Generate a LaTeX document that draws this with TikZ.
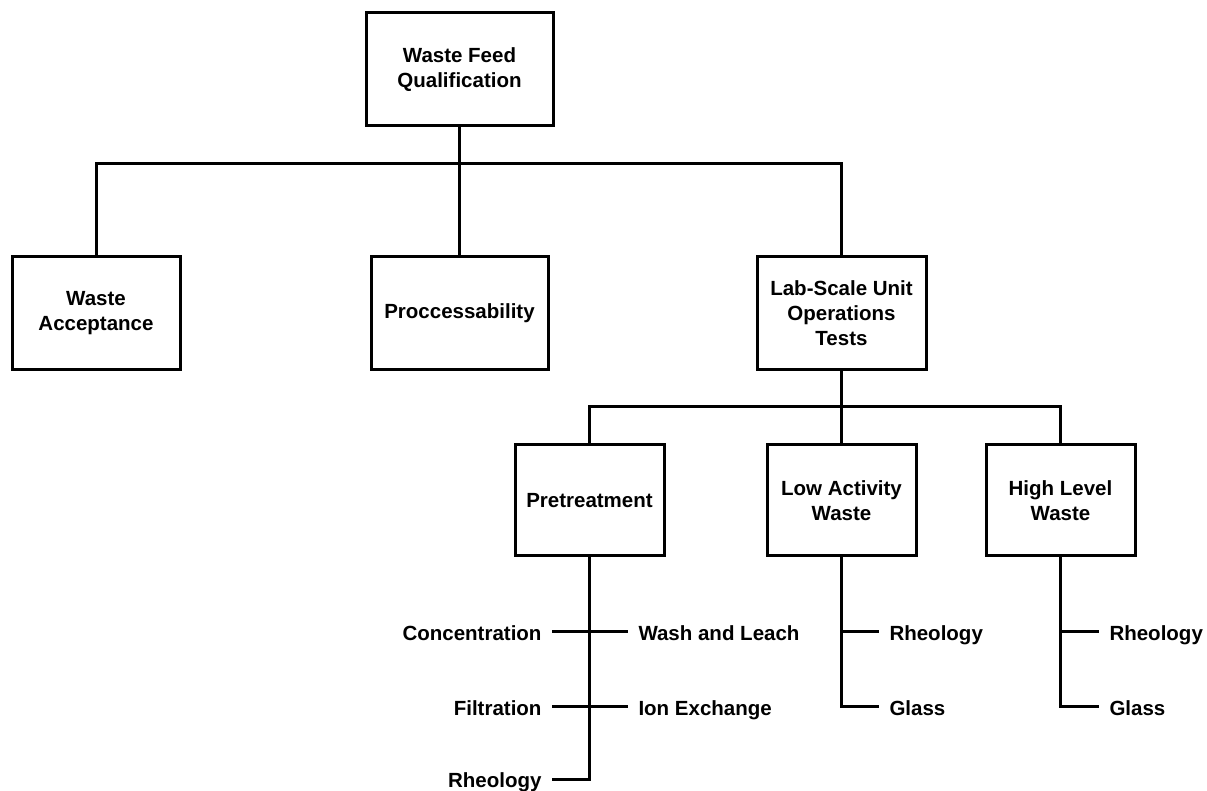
\documentclass[tikz,border=0pt]{standalone}
\usepackage{fontspec}
\setmainfont{Liberation Sans}
\begin{document}
\begin{tikzpicture}[x=0.5pt, y=-0.5pt, line width=1.5pt,
		every node/.style={font=\fontsize{10.25}{12.5}\selectfont\bfseries},
		box/.style={draw, align=center, minimum height=56.5pt, inner sep=0pt},
		leaf/.style={inner ysep=0pt, inner xsep=4.5pt, text height=9pt, text depth=0pt}]
	\useasboundingbox (0,0) rectangle (1207,791);
	% boxes
	\node[box, minimum width=93.5pt] (wfq) at (459.5,69.5) {Waste Feed\\Qualification};
	\node[box, minimum width=84pt] (wacc) at (96,313.5) {Waste\\Acceptance};
	\node[box, minimum width=88.5pt] (proc) at (459.5,313.5) {Proccessability};
	\node[box, minimum width=84.5pt] (lab) at (841.5,313.5) {Lab-Scale Unit\\Operations\\Tests};
	\node[box, minimum width=74.5pt, minimum height=55.5pt] (pre) at (589.5,500.5) {Pretreatment};
	\node[box, minimum width=74.5pt, minimum height=55.5pt] (law) at (841.5,500.5) {Low Activity\\Waste};
	\node[box, minimum width=74.5pt, minimum height=55.5pt] (hlw) at (1060.5,500.5) {High Level\\Waste};
	\coordinate (bus1) at (459.5,164);
	\coordinate (bus2) at (841.5,407);
	\draw (wfq.south) -- (proc.north);
	\draw (wacc.north) |- (bus1) -| (lab.north);
	\draw (lab.south) -- (law.north);
	\draw (pre.north) |- (bus2) -| (hlw.north);
	% pretreatment tests
	\node[leaf, anchor=east] (conc) at (552,632) {Concentration};
	\node[leaf, anchor=west] (wash) at (628,632) {Wash and Leach};
	\node[leaf, anchor=east] (filt) at (552,707) {Filtration};
	\node[leaf, anchor=west] (ionx) at (628,707) {Ion Exchange};
	\node[leaf, anchor=east, text height=7pt] (prerheo) at (552,780) {Rheology};
	\draw (conc.east) -- (wash.west);
	\draw (filt.east) -- (ionx.west);
	\draw (pre.south) |- (prerheo.east);
	% LAW and HLW tests
	\node[leaf, anchor=west] (lawrheo) at (879,632) {Rheology};
	\node[leaf, anchor=west] (lawglass) at (879,707) {Glass};
	\node[leaf, anchor=west] (hlwrheo) at (1099,632) {Rheology};
	\node[leaf, anchor=west] (hlwglass) at (1099,707) {Glass};
	\draw (law.south) |- (lawglass.west);
	\draw (law.south |- lawrheo.west) -- (lawrheo.west);
	\draw (hlw.south) |- (hlwglass.west);
	\draw (hlw.south |- hlwrheo.west) -- (hlwrheo.west);
\end{tikzpicture}
\end{document}
